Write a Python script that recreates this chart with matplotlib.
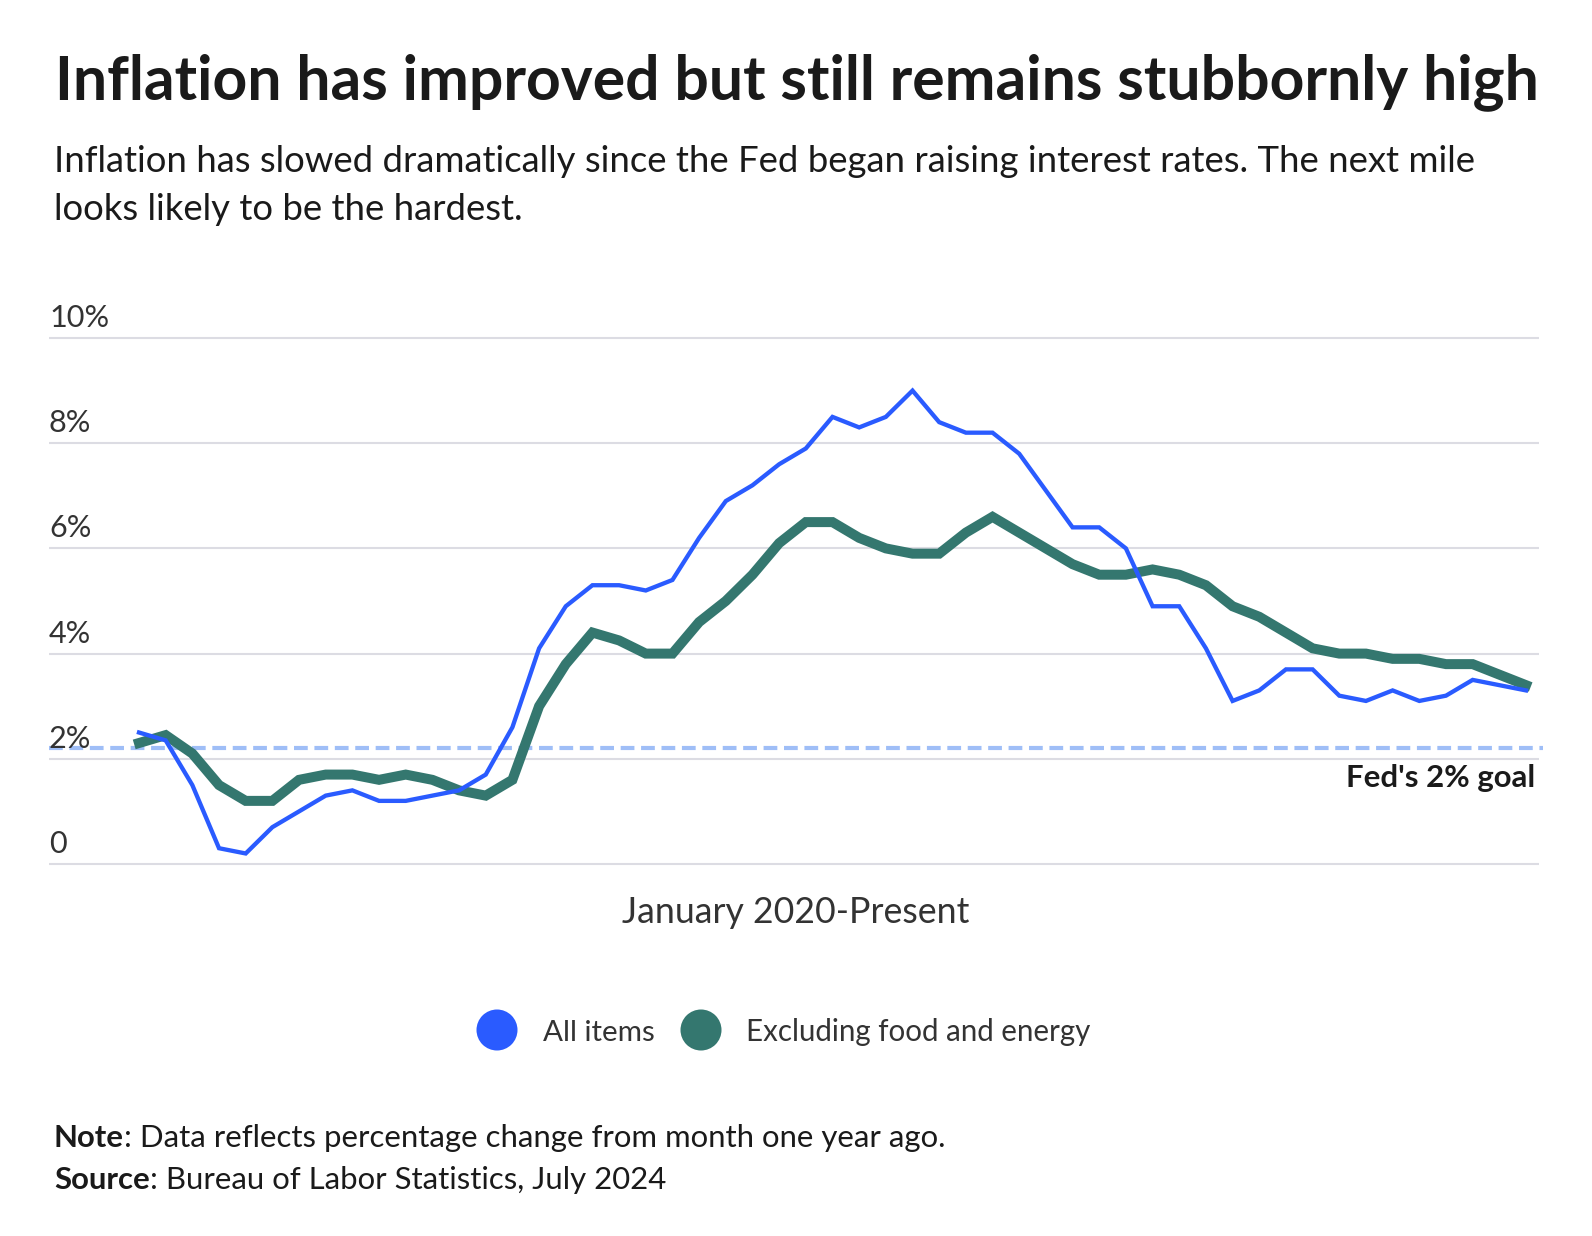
import numpy as np
import pandas as pd
import matplotlib
matplotlib.use("Agg")
import matplotlib.pyplot as plt
from matplotlib.patches import Circle

# ============================================================
#   DATOS (variación % interanual del IPC, ene-2020 a may-2024)
# ============================================================
months = pd.period_range("2020-01", "2024-05", freq="M").strftime("%b %Y").tolist()

all_items = [2.5, 2.35, 1.5, 0.3, 0.2, 0.7, 1.0, 1.3, 1.4, 1.2, 1.2, 1.3,
             1.4, 1.7, 2.6, 4.1, 4.9, 5.3, 5.3, 5.2, 5.4, 6.2, 6.9, 7.2,
             7.6, 7.9, 8.5, 8.3, 8.5, 9.0, 8.4, 8.2, 8.2, 7.8, 7.1, 6.4,
             6.4, 6.0, 4.9, 4.9, 4.1, 3.1, 3.3, 3.7, 3.7, 3.2, 3.1, 3.3,
             3.1, 3.2, 3.5, 3.4, 3.3]

core = [2.3, 2.45, 2.1, 1.5, 1.2, 1.2, 1.6, 1.7, 1.7, 1.6, 1.7, 1.6,
        1.4, 1.3, 1.6, 3.0, 3.8, 4.4, 4.25, 4.0, 4.0, 4.6, 5.0, 5.5,
        6.1, 6.5, 6.5, 6.2, 6.0, 5.9, 5.9, 6.3, 6.6, 6.3, 6.0, 5.7,
        5.5, 5.5, 5.6, 5.5, 5.3, 4.9, 4.7, 4.4, 4.1, 4.0, 4.0, 3.9,
        3.9, 3.8, 3.8, 3.6, 3.4]

y_ticks = [0, 2, 4, 6, 8, 10]
y_labels = ["0", "2%", "4%", "6%", "8%", "10%"]
goal_line = 2.2

series_names = ["All items", "Excluding food and energy"]

BLUE = "#2a5bff"
GREEN = "#34776f"
GOAL = "#9fbef7"
GRID = "#dcdce3"
DARK = "#1a1a1a"
GRAY = "#333333"

plt.rcParams["font.family"] = ["Lato", "DejaVu Sans"]

W, H = 1592, 1236
fig = plt.figure(figsize=(W / 100, H / 100), dpi=100)
renderer = fig.canvas.get_renderer()


def fit(t, width):
    """Ajusta el tamaño de fuente para que el texto mida `width` px."""
    w = t.get_window_extent(renderer).width
    t.set_fontsize(t.get_fontsize() * width / w)
    return t


# ============================================================
#   GRÁFICO PRINCIPAL
# ============================================================
x0_px, x1_px = 139, 1526          # primer y último mes
left_px, right_px = 49, 1539      # extremos de la grilla
y0_px, ppu = 864, 52.6            # línea del 0 y px por punto %
pad = 5

ax = fig.add_axes([left_px / W, 1 - (y0_px + pad) / H,
                   (right_px - left_px) / W, (10 * ppu + 2 * pad) / H])
x = np.arange(len(months))
dx = (x1_px - x0_px) / (len(months) - 1)
ax.set_xlim(-(x0_px - left_px) / dx, len(months) - 1 + (right_px - x1_px) / dx)
ax.set_ylim(-pad / ppu, 10 + pad / ppu)
ax.axis("off")

tick_txt = []
for v, lab in zip(y_ticks, y_labels):
    ax.axhline(v, color=GRID, lw=1.5, zorder=0)
    t = ax.annotate(lab, (0, v), xycoords=ax.get_yaxis_transform(),
                    xytext=(0, 11), textcoords="offset pixels",
                    ha="left", va="baseline", color=GRAY, fontsize=20)
    tick_txt.append(t)
fit(tick_txt[-1], 60)
for t in tick_txt:
    t.set_fontsize(tick_txt[-1].get_fontsize())

ax.axhline(goal_line, color=GOAL, lw=3.0, ls=(0, (3.3, 1.6)), zorder=1,
           xmax=1.003, clip_on=False)
ax.plot(x, all_items, color=BLUE, lw=3.1, zorder=3, solid_joinstyle="miter")
ax.plot(x, core, color=GREEN, lw=7.2, zorder=2, solid_joinstyle="miter")

# ============================================================
#   TEXTOS Y LEYENDA (capa en píxeles)
# ============================================================
lay = fig.add_axes([0, 0, 1, 1])
lay.set_xlim(0, W)
lay.set_ylim(H, 0)
lay.axis("off")
lay.patch.set_alpha(0)

title = lay.text(55, 99, "Inflation has improved but still remains stubbornly high",
                 fontsize=40, fontweight="bold", color=DARK, va="baseline")
fit(title, 1484)

sub1 = lay.text(54, 172, "Inflation has slowed dramatically since the Fed began "
                "raising interest rates. The next mile",
                fontsize=22, color=DARK, va="baseline")
fit(sub1, 1417)
lay.text(54, 220, "looks likely to be the hardest.", fontsize=sub1.get_fontsize(),
         color=DARK, va="baseline")

goal_txt = lay.text(1535, 787, "Fed's 2% goal", fontsize=17, fontweight="bold",
                    color=DARK, ha="right", va="baseline")
fit(goal_txt, 189)

xlab = lay.text(796, 923, "January 2020-Present", fontsize=22, color=GRAY,
                ha="center", va="baseline")
fit(xlab, 345)

# leyenda
leg_x = [497, 701]
leg_txt_x = [543, 746]
leg_w = [112, 345]
for cx, tx, tw, name, col in zip(leg_x, leg_txt_x, leg_w, series_names, [BLUE, GREEN]):
    lay.add_patch(Circle((cx, 1030), 20.5, color=col, lw=0))
    t = lay.text(tx, 1041, name, fontsize=20, color=GRAY, va="baseline")
    fit(t, tw)

# nota y fuente: parte en negrita + resto, ajustado al ancho del original
notes = [("Note", ": Data reflects percentage change from month one year ago.", 1147, 891),
         ("Source", ": Bureau of Labor Statistics, July 2024", 1189, 615)]
note_sizes = []
for bold, rest, yb, tw in notes:
    tb = lay.text(0, 0, bold, fontsize=19, fontweight="bold")
    tr = lay.text(0, 0, rest, fontsize=19)
    w = tb.get_window_extent(renderer).width + tr.get_window_extent(renderer).width
    note_sizes.append(19 * tw / w)
    tb.remove()
    tr.remove()
fs = np.mean(note_sizes)
for bold, rest, yb, tw in notes:
    tb = lay.text(54, yb, bold, fontsize=fs, fontweight="bold", color=DARK, va="baseline")
    wb = tb.get_window_extent(renderer).width
    lay.text(54 + wb, yb, rest, fontsize=fs, color=DARK, va="baseline")

fig.savefig("out.png", dpi=100)
